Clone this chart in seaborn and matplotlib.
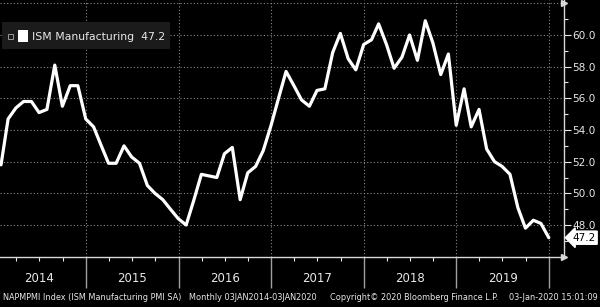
import matplotlib
matplotlib.use("Agg")
import matplotlib.pyplot as plt
import matplotlib.dates as mdates
import matplotlib.transforms as mtransforms
from matplotlib.patches import Rectangle
import numpy as np
import pandas as pd
import seaborn as sns

# ISM Manufacturing PMI, monthly, Jan 2014 - Dec 2019
pmi_2014 = [51.8, 54.7, 55.4, 55.8, 55.8, 55.1, 55.3, 58.1, 55.5, 56.8, 56.8, 54.7]
pmi_2015 = [54.2, 53.1, 51.9, 51.9, 53.0, 52.3, 51.9, 50.5, 50.0, 49.6, 49.0, 48.4]
pmi_2016 = [48.0, 49.5, 51.2, 51.1, 51.0, 52.5, 52.9, 49.6, 51.3, 51.7, 52.7, 54.3]
pmi_2017 = [56.1, 57.7, 56.8, 55.9, 55.5, 56.5, 56.6, 58.9, 60.1, 58.5, 57.8, 59.4]
pmi_2018 = [59.7, 60.7, 59.4, 57.9, 58.6, 60.0, 58.4, 60.9, 59.5, 57.5, 58.8, 54.3]
pmi_2019 = [56.6, 54.2, 55.3, 52.8, 52.0, 51.7, 51.2, 49.1, 47.8, 48.3, 48.1, 47.2]
years = [2014, 2015, 2016, 2017, 2018, 2019]
y_labels = [48, 50, 52, 54, 56, 58, 60]
last_value = 47.2

values = pmi_2014 + pmi_2015 + pmi_2016 + pmi_2017 + pmi_2018 + pmi_2019
dates = pd.date_range("2014-01-31", periods=len(values), freq="ME")
df = pd.DataFrame({"date": dates, "pmi": values})

sns.set_style("dark")
plt.rcParams["font.family"] = ["DejaVu Sans"]

fig = plt.figure(figsize=(6.0, 3.07), dpi=100, facecolor="black")
ax = fig.add_axes([0.0, 1 - 257 / 307, 564 / 600, 257 / 307])
ax.set_facecolor("black")

grid_col = "#8a8a8a"
txt_col = "#e8e8e8"

sns.lineplot(data=df, x="date", y="pmi", ax=ax, color="white", linewidth=2.3, zorder=5)

ax.set_xlim(pd.Timestamp("2014-01-27"), pd.Timestamp("2020-02-29"))
ax.set_ylim(45.98, 62.21)

# y axis on the right
ax.yaxis.tick_right()
ax.set_yticks(y_labels)
ax.set_yticklabels([f"{v:.1f}" for v in y_labels])
ax.set_yticks(np.arange(47, 62, 1), minor=True)
ax.tick_params(axis="y", which="both", right=True, left=False)
ax.tick_params(axis="y", which="major", colors=txt_col, length=5, width=0.8,
               labelsize=7.6, pad=1, direction="out")
ax.tick_params(axis="y", which="minor", colors=txt_col, length=3, width=0.8)

# x axis: year separators + quarterly ticks
ax.xaxis.set_major_locator(mdates.YearLocator())
ax.xaxis.set_minor_locator(mdates.MonthLocator(bymonth=[1, 4, 7, 10]))
ax.xaxis.set_major_formatter(plt.NullFormatter())
ax.tick_params(axis="x", which="both", bottom=True, top=False)
ax.tick_params(axis="x", which="major", colors="#a0a0a0", length=22, width=1.0)
ax.tick_params(axis="x", which="minor", colors=txt_col, length=3, width=0.8)

ax.grid(True, which="major", axis="both", color=grid_col, linestyle=(0, (1, 2)), linewidth=0.8)
ax.axhline(62, color=grid_col, linestyle=(0, (1, 2)), linewidth=0.8)

for side in ["left", "top"]:
    ax.spines[side].set_visible(False)
for side in ["right", "bottom"]:
    ax.spines[side].set_visible(True)
    ax.spines[side].set_color("#d8d8d8")
    ax.spines[side].set_linewidth(1.0)

ax.set_xlabel("")
ax.set_ylabel("")

# arrow heads at the axis ends
ax.plot([1.0], [0.0], marker=">", color="#d8d8d8", markersize=5, transform=ax.transAxes, clip_on=False)
ax.plot([1.0], [0.987], marker=">", color="#d8d8d8", markersize=5, transform=ax.transAxes, clip_on=False)

# year labels
trans = mtransforms.blended_transform_factory(ax.transData, ax.transAxes)
for yr in years:
    mid = mdates.date2num(pd.Timestamp(f"{yr}-07-02"))
    ax.text(mid, -0.085, str(yr), transform=trans, ha="center", va="center",
            color=txt_col, fontsize=8.5)

# last value tag
ax.annotate(f"{last_value}", xy=(1.0, last_value), xycoords=("axes fraction", "data"),
            xytext=(6, 0), textcoords="offset points", ha="left", va="center",
            fontsize=7.6, color="black",
            bbox=dict(boxstyle="larrow,pad=0.15", fc="white", ec="white"),
            annotation_clip=False)

# legend box
fig.patches.append(Rectangle((2 / 600, 1 - 49 / 307), 168 / 600, 27 / 307,
                             transform=fig.transFigure, facecolor="#1b1b1b",
                             edgecolor="none", zorder=10))
fig.patches.append(Rectangle((8 / 600, 1 - 38.5 / 307), 5 / 600, 5 / 307,
                             transform=fig.transFigure, facecolor="none",
                             edgecolor="#9a9a9a", linewidth=0.7, zorder=11))
fig.patches.append(Rectangle((17.5 / 600, 1 - 41.5 / 307), 10 / 600, 11.5 / 307,
                             transform=fig.transFigure, facecolor="white",
                             edgecolor="none", zorder=11))
fig.text(32 / 600, 1 - 36.5 / 307, f"ISM Manufacturing  {last_value}", color=txt_col,
         fontsize=7.8, ha="left", va="center", zorder=12)

# footer
foot_y = 1 - 297 / 307
fig.text(3 / 600, foot_y, "NAPMPMI Index (ISM Manufacturing PMI SA)", color=txt_col,
         fontsize=5.9, ha="left", va="center")
fig.text(189 / 600, foot_y, "Monthly 03JAN2014-03JAN2020", color=txt_col,
         fontsize=5.9, ha="left", va="center")
fig.text(330 / 600, foot_y, "Copyright\u00a9 2020 Bloomberg Finance L.P.", color=txt_col,
         fontsize=5.9, ha="left", va="center")
fig.text(598 / 600, foot_y, "03-Jan-2020 15:01:09", color=txt_col,
         fontsize=5.9, ha="right", va="center")

fig.savefig("out.png", dpi=100, facecolor="black")
